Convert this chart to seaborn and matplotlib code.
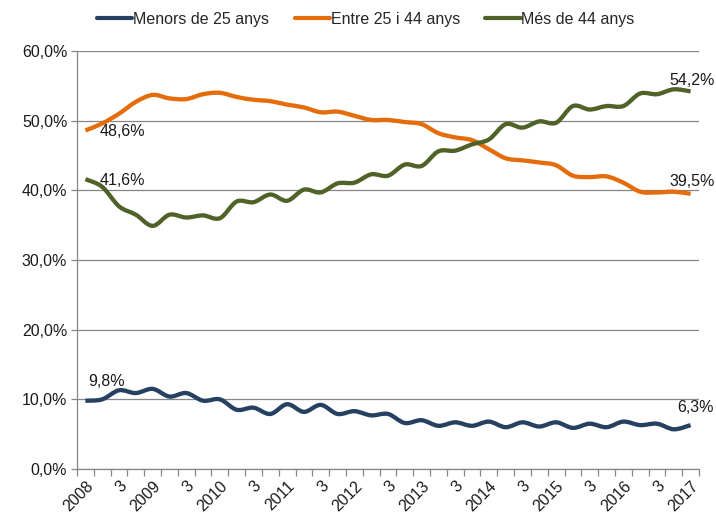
import numpy as np
import pandas as pd
import matplotlib as mpl
mpl.use('Agg')
import matplotlib.pyplot as plt
import seaborn as sns
from matplotlib.lines import Line2D
from matplotlib.path import Path
from matplotlib.patches import PathPatch

# quarterly shares, 2008 T1 .. 2017 T1
groups = ['Menors de 25 anys', 'Entre 25 i 44 anys', 'Més de 44 anys']
colors = ['#254061', '#E46C0A', '#4F6228']

menors = [9.8, 10.0, 11.3, 10.9, 11.5, 10.4, 10.9, 9.8, 10.0, 8.5,
          8.8, 7.9, 9.3, 8.2, 9.2, 7.9, 8.3, 7.7, 7.9, 6.6,
          7.0, 6.2, 6.7, 6.2, 6.8, 6.0, 6.7, 6.1, 6.7, 5.9,
          6.5, 6.0, 6.8, 6.3, 6.5, 5.7, 6.3]
entre = [48.6, 49.6, 51.0, 52.7, 53.7, 53.2, 53.1, 53.8, 54.0, 53.4,
         53.0, 52.8, 52.3, 51.9, 51.2, 51.3, 50.7, 50.1, 50.1, 49.8,
         49.5, 48.2, 47.6, 47.2, 45.9, 44.6, 44.3, 44.0, 43.6, 42.1,
         41.9, 42.0, 41.1, 39.8, 39.7, 39.8, 39.5]
mes = [41.6, 40.5, 37.7, 36.5, 34.9, 36.5, 36.1, 36.4, 36.0, 38.4,
       38.3, 39.4, 38.5, 40.1, 39.7, 41.0, 41.1, 42.3, 42.1, 43.7,
       43.5, 45.6, 45.7, 46.6, 47.3, 49.5, 49.0, 49.9, 49.7, 52.1,
       51.6, 52.1, 52.1, 53.9, 53.8, 54.5, 54.2]

tick_labels = ['2008', '3', '2009', '3', '2010', '3', '2011', '3', '2012', '3',
               '2013', '3', '2014', '3', '2015', '3', '2016', '3', '2017']

n = len(menors)
df = pd.DataFrame({
    't': list(range(n)) * 3,
    'grup': [groups[0]] * n + [groups[1]] * n + [groups[2]] * n,
    'pct': menors + entre + mes,
})


def smooth_line(ax, line):
    # redraw a seaborn line as a smooth bezier through the same points (Excel-style)
    xy = np.asarray(line.get_xydata())
    verts = [tuple(xy[0])]
    codes = [Path.MOVETO]
    for i in range(len(xy) - 1):
        p0 = xy[max(i - 1, 0)]
        p1 = xy[i]
        p2 = xy[i + 1]
        p3 = xy[min(i + 2, len(xy) - 1)]
        c1 = p1 + (p2 - p0) / 6
        c2 = p2 - (p3 - p1) / 6
        verts += [tuple(c1), tuple(c2), tuple(p2)]
        codes += [Path.CURVE4] * 3
    patch = PathPatch(Path(verts, codes), facecolor='none', edgecolor=line.get_color(),
                      linewidth=line.get_linewidth(), joinstyle='round', capstyle='butt',
                      zorder=line.get_zorder())
    ax.add_patch(patch)
    line.set_visible(False)


sns.set_theme(style='white')
plt.rcParams['font.family'] = ['Liberation Sans', 'DejaVu Sans']

grid_col = '#868686'
fig = plt.figure(figsize=(7.16, 5.12), dpi=100)
ax = fig.add_axes([77 / 716, 43 / 512, 622 / 716, 418 / 512])

sns.lineplot(data=df, x='t', y='pct', hue='grup', hue_order=groups,
             palette=dict(zip(groups, colors)), linewidth=3.1, ax=ax,
             legend=False)
for ln in list(ax.lines):
    smooth_line(ax, ln)

ax.set_xlim(-0.5, n - 0.5)
ax.set_ylim(0, 60)
ax.set_xlabel('')
ax.set_ylabel('')

# y axis
yt = np.arange(0, 61, 10)
ax.set_yticks(yt)
ax.set_yticklabels([f'{v:.1f}%'.replace('.', ',') for v in yt], fontsize=11.5, color='#1a1a1a')
ax.yaxis.grid(True, color=grid_col, linewidth=0.9)
ax.set_axisbelow(True)
ax.tick_params(axis='y', length=4, width=0.9, color=grid_col, pad=3, left=True)

# x axis: labels every half year, tick marks between quarters
ax.set_xticks(range(0, n, 2))
ax.set_xticklabels(tick_labels, rotation=45, ha='right', rotation_mode='anchor', fontsize=11.5, color='#1a1a1a')
ax.set_xticks(np.arange(-0.5, n, 1), minor=True)
ax.tick_params(axis='x', which='major', length=0, pad=7)
ax.tick_params(axis='x', which='minor', length=5, width=0.9, color=grid_col, bottom=True)

for side in ['top', 'right']:
    ax.spines[side].set_visible(False)
for side in ['left', 'bottom']:
    ax.spines[side].set_color(grid_col)
    ax.spines[side].set_linewidth(0.9)

# data labels at first and last points
kw = dict(fontsize=11.5, color='#1a1a1a', va='center', clip_on=False)
ax.text(0.87, entre[0] - 0.2, '48,6%', ha='left', **kw)
ax.text(0.87, mes[0] - 0.2, '41,6%', ha='left', **kw)
ax.text(0.15, menors[0] + 2.7, '9,8%', ha='left', **kw)
ax.text(n - 0.9, mes[-1] + 1.5, '54,2%', ha='center', **kw)
ax.text(n - 0.9, entre[-1] + 1.8, '39,5%', ha='center', **kw)
ax.text(n - 0.7, menors[-1] + 2.5, '6,3%', ha='center', **kw)

handles = [Line2D([], [], color=c, linewidth=3) for c in colors]
fig.legend(handles, groups, loc='center', bbox_to_anchor=(0.511, 0.962), ncol=3,
           frameon=False, fontsize=11.5, handlelength=2.2, handletextpad=0.05,
           columnspacing=1.6)

fig.savefig('out.png', dpi=100)
